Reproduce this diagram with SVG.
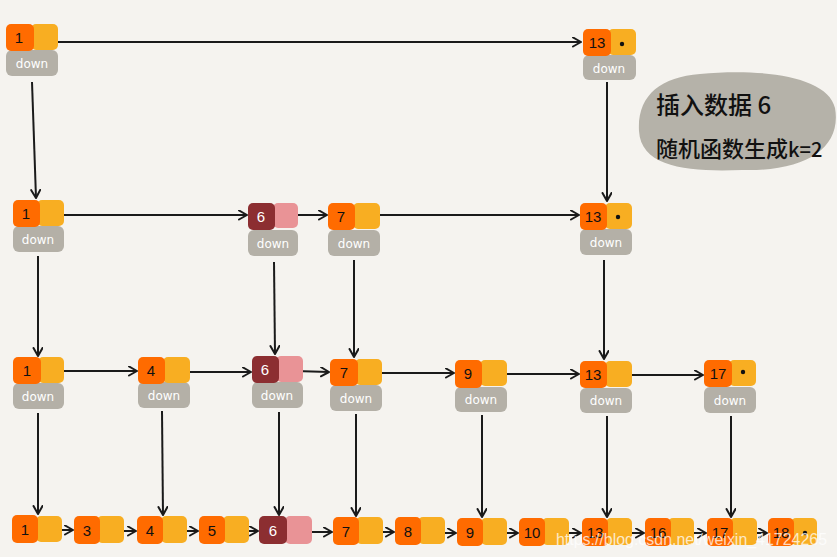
<svg xmlns="http://www.w3.org/2000/svg" width="837" height="557" viewBox="0 0 837 557">
<defs>
<marker id="ah" markerUnits="userSpaceOnUse" markerWidth="12" markerHeight="12" refX="9" refY="5" orient="auto">
<path d="M1,0.5 L9,5 L1,9.5" fill="none" stroke="#1a1a1a" stroke-width="2" stroke-linecap="round" stroke-linejoin="round"/>
</marker>
<style>
.o{fill:#FF6B00}
.y{fill:#F8AE22}
.dr{fill:#8C2E31}
.pk{fill:#E99396}
.dn{fill:#B4B0A7}
.num{font-family:"Liberation Sans","DejaVu Sans",sans-serif;font-size:15px;fill:#111;text-anchor:middle}
.wn{font-family:"Liberation Sans","DejaVu Sans",sans-serif;font-size:15px;fill:#fff;text-anchor:middle}
.dl{font-family:"DejaVu Sans","Liberation Sans",sans-serif;font-size:12px;fill:#fff;text-anchor:middle}
.c line{stroke:#1a1a1a;stroke-width:2;marker-end:url(#ah)}
.cj{font-family:"Noto Sans CJK SC",sans-serif;fill:#111;font-weight:500}
</style>
</defs>
<rect width="837" height="557" fill="#F5F3EF"/>

<g id="bubble">
<path d="M700 74 C760 68 828 76 835 108 C842 148 806 172 742 170 C690 172 641 168 639 131 C637 96 660 77 700 74 Z" fill="#B5B2A9"/>
<text class="cj" x="656" y="114" font-size="24">插入数据 6</text>
<text class="cj" x="656" y="157" font-size="22">随机函数生成<tspan font-size="20">k=2</tspan></text>
</g>

<g class="c" id="connectors">
<line x1="45" y1="42" x2="581" y2="42"/>
<line x1="32" y1="82" x2="36" y2="198"/>
<line x1="607" y1="82" x2="607" y2="201"/>
<line x1="50" y1="215" x2="247" y2="215"/>
<line x1="292" y1="215" x2="327" y2="215"/>
<line x1="369" y1="215" x2="579" y2="215"/>
<line x1="38" y1="256" x2="38" y2="356"/>
<line x1="274" y1="262" x2="275" y2="354"/>
<line x1="354" y1="260" x2="354" y2="357"/>
<line x1="604" y1="260" x2="604" y2="359"/>
<line x1="55" y1="371" x2="137" y2="371"/>
<line x1="178" y1="372" x2="251" y2="372"/>
<line x1="295" y1="371" x2="329" y2="372"/>
<line x1="370" y1="373" x2="454" y2="373"/>
<line x1="493" y1="374" x2="579" y2="374"/>
<line x1="618" y1="375" x2="703" y2="375"/>
<line x1="38" y1="413" x2="38" y2="514"/>
<line x1="162" y1="411" x2="163" y2="515"/>
<line x1="279" y1="412" x2="279" y2="515"/>
<line x1="356" y1="414" x2="356" y2="516"/>
<line x1="482" y1="415" x2="482" y2="517"/>
<line x1="607" y1="416" x2="607" y2="517"/>
<line x1="731" y1="416" x2="731" y2="517"/>
<line x1="50" y1="530" x2="73" y2="530"/>
<line x1="112" y1="531" x2="136" y2="531"/>
<line x1="175" y1="531" x2="198" y2="531"/>
<line x1="238" y1="531" x2="258" y2="531"/>
<line x1="301" y1="532" x2="332" y2="532"/>
<line x1="371" y1="532" x2="394" y2="532"/>
<line x1="433" y1="533" x2="456" y2="533"/>
<line x1="495" y1="533" x2="518" y2="533"/>
<line x1="557" y1="533" x2="581" y2="533"/>
<line x1="620" y1="533" x2="644" y2="533"/>
<line x1="683" y1="533" x2="706" y2="533"/>
<line x1="745" y1="533" x2="767" y2="533"/>
</g>

<!-- top level -->
<g id="t1"><rect class="dn" x="6" y="50" width="52" height="26" rx="6"/><rect class="y" x="31" y="24" width="27" height="26" rx="5"/><rect class="o" x="6" y="24" width="28" height="27" rx="5"/><text class="num" x="19" y="43">1</text><text class="dl" x="32" y="68">down</text></g>
<g id="t13"><rect class="dn" x="583" y="55" width="53" height="25" rx="6"/><rect class="y" x="608" y="29" width="28" height="26" rx="5"/><rect class="o" x="583" y="29" width="28" height="27" rx="5"/><text class="num" x="597" y="48">13</text><circle cx="622" cy="44" r="2.2" fill="#111"/><text class="dl" x="609" y="73">down</text></g>

<!-- level 2 -->
<g id="l2n1"><rect class="dn" x="13" y="226" width="51" height="26" rx="6"/><rect class="y" x="37" y="200" width="27" height="26" rx="5"/><rect class="o" x="13" y="200" width="27" height="27" rx="5"/><text class="num" x="26" y="219">1</text><text class="dl" x="38" y="244">down</text></g>
<g id="l2n6"><rect class="dn" x="248" y="230" width="50" height="26" rx="6"/><rect class="pk" x="273" y="203" width="25" height="25" rx="5"/><rect class="dr" x="248" y="203" width="27" height="27" rx="5"/><text class="wn" x="261" y="222">6</text><text class="dl" x="273" y="248">down</text></g>
<g id="l2n7"><rect class="dn" x="328" y="230" width="52" height="26" rx="6"/><rect class="y" x="353" y="203" width="27" height="26" rx="5"/><rect class="o" x="328" y="203" width="27" height="27" rx="5"/><text class="num" x="341" y="222">7</text><text class="dl" x="354" y="248">down</text></g>
<g id="l2n13"><rect class="dn" x="580" y="229" width="52" height="26" rx="6"/><rect class="y" x="605" y="203" width="27" height="26" rx="5"/><rect class="o" x="580" y="203" width="27" height="27" rx="5"/><text class="num" x="593" y="222">13</text><circle cx="618" cy="217" r="2.2" fill="#111"/><text class="dl" x="606" y="247">down</text></g>

<!-- level 3 -->
<g id="l3n1"><rect class="dn" x="13" y="383" width="51" height="26" rx="6"/><rect class="y" x="38" y="357" width="26" height="26" rx="5"/><rect class="o" x="13" y="357" width="28" height="27" rx="5"/><text class="num" x="27" y="376">1</text><text class="dl" x="38" y="401">down</text></g>
<g id="l3n4"><rect class="dn" x="138" y="382" width="52" height="26" rx="6"/><rect class="y" x="163" y="357" width="27" height="26" rx="5"/><rect class="o" x="138" y="357" width="27" height="27" rx="5"/><text class="num" x="151" y="376">4</text><text class="dl" x="164" y="400">down</text></g>
<g id="l3n6"><rect class="dn" x="252" y="382" width="51" height="26" rx="6"/><rect class="pk" x="276" y="356" width="27" height="26" rx="5"/><rect class="dr" x="252" y="356" width="27" height="27" rx="5"/><text class="wn" x="265" y="375">6</text><text class="dl" x="277" y="400">down</text></g>
<g id="l3n7"><rect class="dn" x="330" y="385" width="52" height="26" rx="6"/><rect class="y" x="355" y="359" width="27" height="26" rx="5"/><rect class="o" x="330" y="359" width="28" height="27" rx="5"/><text class="num" x="344" y="378">7</text><text class="dl" x="356" y="403">down</text></g>
<g id="l3n9"><rect class="dn" x="455" y="387" width="52" height="25" rx="6"/><rect class="y" x="480" y="360" width="27" height="26" rx="5"/><rect class="o" x="455" y="360" width="27" height="28" rx="5"/><text class="num" x="468" y="379">9</text><text class="dl" x="481" y="404">down</text></g>
<g id="l3n13"><rect class="dn" x="580" y="388" width="52" height="25" rx="6"/><rect class="y" x="605" y="361" width="27" height="26" rx="5"/><rect class="o" x="580" y="361" width="27" height="27" rx="5"/><text class="num" x="593" y="380">13</text><text class="dl" x="606" y="405">down</text></g>
<g id="l3n17"><rect class="dn" x="704" y="387" width="52" height="26" rx="6"/><rect class="y" x="729" y="360" width="27" height="26" rx="5"/><rect class="o" x="704" y="360" width="28" height="27" rx="5"/><text class="num" x="718" y="379">17</text><circle cx="743" cy="372" r="2.2" fill="#111"/><text class="dl" x="730" y="405">down</text></g>

<!-- bottom level -->
<g id="b1"><rect class="y" x="36" y="516" width="26" height="26" rx="5"/><rect class="o" x="12" y="515" width="26" height="28" rx="5"/><text class="num" x="25" y="535">1</text></g>
<g id="b3"><rect class="y" x="97" y="516" width="27" height="27" rx="5"/><rect class="o" x="74" y="516" width="26" height="28" rx="5"/><text class="num" x="87" y="536">3</text></g>
<g id="b4"><rect class="y" x="161" y="516" width="26" height="27" rx="5"/><rect class="o" x="137" y="516" width="26" height="28" rx="5"/><text class="num" x="150" y="536">4</text></g>
<g id="b5"><rect class="y" x="223" y="516" width="26" height="27" rx="5"/><rect class="o" x="199" y="516" width="26" height="28" rx="5"/><text class="num" x="212" y="536">5</text></g>
<g id="b6"><rect class="pk" x="285" y="516" width="27" height="28" rx="5"/><rect class="dr" x="259" y="516" width="28" height="28" rx="5"/><text class="wn" x="273" y="536">6</text></g>
<g id="b7"><rect class="y" x="356" y="517" width="27" height="27" rx="5"/><rect class="o" x="333" y="517" width="26" height="28" rx="5"/><text class="num" x="346" y="537">7</text></g>
<g id="b8"><rect class="y" x="418" y="517" width="27" height="27" rx="5"/><rect class="o" x="395" y="517" width="26" height="28" rx="5"/><text class="num" x="408" y="537">8</text></g>
<g id="b9"><rect class="y" x="481" y="518" width="26" height="27" rx="5"/><rect class="o" x="457" y="518" width="26" height="28" rx="5"/><text class="num" x="470" y="538">9</text></g>
<g id="b10"><rect class="y" x="542" y="518" width="27" height="27" rx="5"/><rect class="o" x="519" y="518" width="26" height="28" rx="5"/><text class="num" x="532" y="538">10</text></g>
<g id="b13"><rect class="y" x="606" y="518" width="26" height="27" rx="5"/><rect class="o" x="582" y="518" width="26" height="28" rx="5"/><text class="num" x="595" y="538">13</text></g>
<g id="b16"><rect class="y" x="668" y="518" width="26" height="27" rx="5"/><rect class="o" x="645" y="518" width="26" height="28" rx="5"/><text class="num" x="658" y="538">16</text></g>
<g id="b17"><rect class="y" x="730" y="518" width="27" height="27" rx="5"/><rect class="o" x="707" y="518" width="26" height="28" rx="5"/><text class="num" x="720" y="538">17</text></g>
<g id="b18"><rect class="y" x="791" y="518" width="26" height="27" rx="5"/><rect class="o" x="768" y="518" width="26" height="28" rx="5"/><text class="num" x="781" y="538">18</text><circle cx="805" cy="533" r="2.2" fill="#111"/></g>

<text x="556" y="545" font-family="Liberation Sans, Arial, sans-serif" font-size="16" fill="#ffffff" fill-opacity="0.75" textLength="271" lengthAdjust="spacingAndGlyphs">https://blog.csdn.net/weixin_41724265</text>
</svg>
